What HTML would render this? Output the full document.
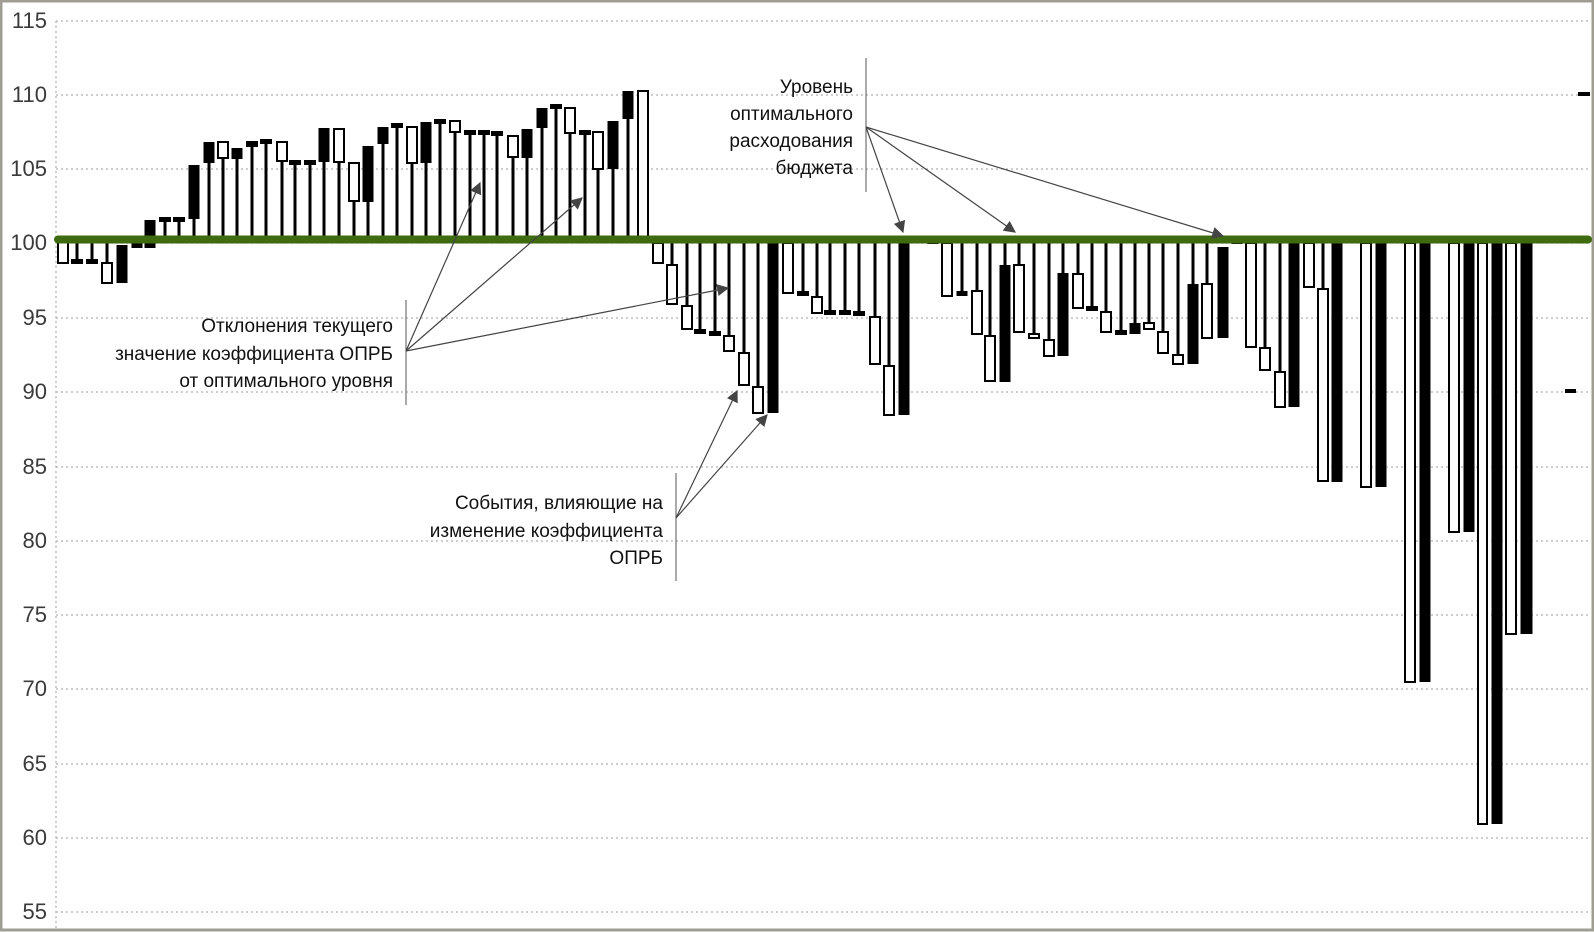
<!DOCTYPE html>
<html><head><meta charset="utf-8"><style>
html,body{margin:0;padding:0;background:#fff}
svg{display:block}
.h{fill:#fff;stroke:#000;stroke-width:2}
.f{fill:#000}
.g{stroke:#bdbdbd;stroke-width:1.5;stroke-dasharray:2 3}
.lab{font-family:"Liberation Sans",sans-serif;font-size:22px;fill:#3a3a3a;text-anchor:end}
.ann{font-family:"Liberation Sans",sans-serif;font-size:19px;fill:#111;text-anchor:end}
.ar{stroke:#444;stroke-width:1.2;fill:none;marker-end:url(#ah)}
</style></head><body>
<svg width="1594" height="932" viewBox="0 0 1594 932" xmlns="http://www.w3.org/2000/svg">
<defs><marker id="ah" viewBox="0 0 10 10" refX="9" refY="5" markerWidth="12" markerHeight="12" markerUnits="userSpaceOnUse" orient="auto"><path d="M0,0 L10,5 L0,10 z" fill="#444"/></marker></defs>
<rect x="1" y="1" width="1592" height="929" fill="#fff" stroke="#a09e92" stroke-width="3"/>
<g>
<line class="g" x1="56" y1="21" x2="1590" y2="21"/><line class="g" x1="56" y1="95" x2="1590" y2="95"/><line class="g" x1="56" y1="169" x2="1590" y2="169"/><line class="g" x1="56" y1="243" x2="1590" y2="243"/><line class="g" x1="56" y1="318" x2="1590" y2="318"/><line class="g" x1="56" y1="392" x2="1590" y2="392"/><line class="g" x1="56" y1="467" x2="1590" y2="467"/><line class="g" x1="56" y1="541" x2="1590" y2="541"/><line class="g" x1="56" y1="615" x2="1590" y2="615"/><line class="g" x1="56" y1="689" x2="1590" y2="689"/><line class="g" x1="56" y1="764" x2="1590" y2="764"/><line class="g" x1="56" y1="838" x2="1590" y2="838"/><line class="g" x1="56" y1="912" x2="1590" y2="912"/>
<line class="g" x1="56" y1="21" x2="56" y2="928"/>
</g>
<g>
<text class="lab" x="47" y="28">115</text><text class="lab" x="47" y="102">110</text><text class="lab" x="47" y="176">105</text><text class="lab" x="47" y="250">100</text><text class="lab" x="47" y="325">95</text><text class="lab" x="47" y="399">90</text><text class="lab" x="47" y="474">85</text><text class="lab" x="47" y="548">80</text><text class="lab" x="47" y="622">75</text><text class="lab" x="47" y="696">70</text><text class="lab" x="47" y="771">65</text><text class="lab" x="47" y="845">60</text><text class="lab" x="47" y="919">55</text>
</g>
<g class="f">
<rect x="163.5" y="219" width="3" height="21"/><rect x="177.5" y="219" width="3" height="21"/><rect x="192.5" y="219" width="3" height="21"/>
<rect x="207.5" y="163" width="3" height="77"/><rect x="221.5" y="158" width="3" height="82"/><rect x="235.5" y="159" width="3" height="81"/><rect x="250.5" y="143" width="3" height="97"/><rect x="264.5" y="141" width="3" height="99"/><rect x="280.5" y="161" width="3" height="79"/><rect x="293.5" y="162" width="3" height="78"/><rect x="308.5" y="162" width="3" height="78"/><rect x="322.5" y="162" width="3" height="78"/><rect x="337.5" y="162" width="3" height="78"/><rect x="352.5" y="201" width="3" height="39"/><rect x="366.5" y="202" width="3" height="38"/><rect x="381.5" y="144" width="3" height="96"/><rect x="395.5" y="125" width="3" height="115"/><rect x="410.5" y="163" width="3" height="77"/><rect x="424.5" y="163" width="3" height="77"/><rect x="438.5" y="121" width="3" height="119"/><rect x="453.5" y="132" width="3" height="108"/><rect x="468.5" y="132" width="3" height="108"/><rect x="482.5" y="132" width="3" height="108"/><rect x="495.5" y="133" width="3" height="107"/><rect x="511.5" y="157" width="3" height="83"/><rect x="525.5" y="158" width="3" height="82"/><rect x="540.5" y="128" width="3" height="112"/><rect x="554.5" y="106" width="3" height="134"/><rect x="568.5" y="133" width="3" height="107"/><rect x="583.5" y="132" width="3" height="108"/><rect x="596.5" y="169" width="3" height="71"/><rect x="611.5" y="169" width="3" height="71"/><rect x="626.5" y="119" width="3" height="121"/>
<rect x="159" y="217" width="12" height="5"/><rect x="173" y="217" width="12" height="5"/><rect x="246" y="141" width="12" height="6"/><rect x="260" y="139" width="12" height="5"/><rect x="289" y="160" width="12" height="5"/><rect x="304" y="160" width="12" height="5"/><rect x="391" y="123" width="12" height="5"/><rect x="434" y="119" width="12" height="5"/><rect x="464" y="130" width="12" height="5"/><rect x="478" y="130" width="12" height="5"/><rect x="491" y="131" width="12" height="5"/><rect x="550" y="104" width="12" height="5"/><rect x="579" y="130" width="12" height="5"/>
<rect x="144.5" y="220" width="11" height="28"/><rect x="188.5" y="165" width="11" height="54"/><rect x="203.5" y="142" width="11" height="21"/><rect x="231.5" y="148" width="11" height="11"/><rect x="318.5" y="128" width="11" height="34"/><rect x="362.5" y="146" width="11" height="56"/><rect x="377.5" y="127" width="11" height="17"/><rect x="420.5" y="122" width="11" height="41"/><rect x="521.5" y="129" width="11" height="29"/><rect x="536.5" y="108" width="11" height="20"/><rect x="607.5" y="121" width="11" height="48"/><rect x="622.5" y="91" width="11" height="28"/>
</g>
<g>
<rect class="h" x="218" y="142" width="10" height="16"/><rect class="h" x="277" y="142" width="10" height="19"/><rect class="h" x="334" y="129" width="10" height="33"/><rect class="h" x="349" y="163" width="10" height="38"/><rect class="h" x="407" y="127" width="10" height="36"/><rect class="h" x="450" y="121" width="10" height="11"/><rect class="h" x="508" y="136" width="10" height="21"/><rect class="h" x="565" y="108" width="10" height="25"/><rect class="h" x="593" y="132" width="10" height="37"/><rect class="h" x="638" y="91" width="10" height="146"/>
</g>
<g class="f">
<rect x="75.5" y="240" width="3" height="23"/><rect x="90.5" y="240" width="3" height="23"/><rect x="105.5" y="240" width="3" height="23"/>
<rect x="71" y="259" width="12" height="5"/><rect x="86" y="259" width="12" height="5"/>
<rect x="116.5" y="245" width="11" height="38"/><rect x="131.5" y="240" width="11" height="8"/>
<rect x="670.5" y="240" width="3" height="25"/><rect x="685.5" y="240" width="3" height="66"/><rect x="698.5" y="240" width="3" height="93"/><rect x="713.5" y="240" width="3" height="95"/><rect x="727.5" y="240" width="3" height="96"/><rect x="742.5" y="240" width="3" height="113"/><rect x="756.5" y="240" width="3" height="147"/>
<rect x="694" y="329" width="12" height="5"/><rect x="709" y="331" width="12" height="5"/>
<rect x="767.5" y="240" width="11" height="173"/>
<rect x="801.5" y="240" width="3" height="55"/><rect x="815.5" y="240" width="3" height="57"/><rect x="828.5" y="240" width="3" height="74"/><rect x="843.5" y="240" width="3" height="74"/><rect x="857.5" y="240" width="3" height="75"/><rect x="873.5" y="240" width="3" height="77"/><rect x="887.5" y="240" width="3" height="126"/>
<rect x="797" y="291" width="12" height="5"/><rect x="824" y="310" width="12" height="5"/><rect x="839" y="310" width="12" height="5"/><rect x="853" y="311" width="12" height="5"/>
<rect x="898.5" y="240" width="11" height="175"/><rect x="927.5" y="240" width="11" height="4"/>
<rect x="960.5" y="240" width="3" height="51"/><rect x="956.5" y="291" width="11" height="5"/>
<rect x="975.5" y="240" width="3" height="51"/><rect x="988.5" y="240" width="3" height="96"/><rect x="999.5" y="265" width="11" height="117"/><rect x="1003.5" y="240" width="3" height="25"/><rect x="1017.5" y="240" width="3" height="25"/><rect x="1032.5" y="240" width="3" height="94"/><rect x="1047.5" y="240" width="3" height="100"/><rect x="1057.5" y="273" width="11" height="83"/><rect x="1061.5" y="240" width="3" height="33"/><rect x="1076.5" y="240" width="3" height="34"/><rect x="1090.5" y="240" width="3" height="70"/><rect x="1086" y="306" width="12" height="5"/><rect x="1104.5" y="240" width="3" height="72"/><rect x="1119.5" y="240" width="3" height="94"/><rect x="1115" y="330" width="12" height="5"/><rect x="1133.5" y="240" width="3" height="83"/><rect x="1129.5" y="323" width="11" height="11"/><rect x="1147.5" y="240" width="3" height="83"/><rect x="1161.5" y="240" width="3" height="92"/><rect x="1176.5" y="240" width="3" height="115"/><rect x="1187.5" y="284" width="11" height="80"/><rect x="1191.5" y="240" width="3" height="44"/><rect x="1205.5" y="240" width="3" height="44"/><rect x="1217.5" y="247" width="11" height="91"/><rect x="1231.5" y="240" width="11" height="4"/>
<rect x="1263.5" y="240" width="3" height="108"/><rect x="1278.5" y="240" width="3" height="132"/><rect x="1288.5" y="243" width="11" height="164"/><rect x="1321.5" y="240" width="3" height="49"/><rect x="1331.5" y="243" width="11" height="239"/><rect x="1375.5" y="243" width="11" height="244"/><rect x="1419.5" y="243" width="11" height="439"/><rect x="1463.5" y="243" width="11" height="289"/><rect x="1491.5" y="243" width="11" height="581"/><rect x="1520.5" y="243" width="12" height="391"/>
<rect x="1578" y="92" width="12" height="4"/><rect x="1565" y="389" width="11" height="4"/>
</g>
<g>
<rect class="h" x="58" y="242" width="10" height="21"/><rect class="h" x="102" y="263" width="10" height="20"/>
<rect class="h" x="653" y="243" width="10" height="20"/><rect class="h" x="667" y="265" width="10" height="39"/><rect class="h" x="682" y="306" width="10" height="23"/><rect class="h" x="724" y="336" width="10" height="15"/><rect class="h" x="739" y="353" width="10" height="32"/><rect class="h" x="753" y="387" width="10" height="26"/><rect class="h" x="783" y="243" width="10" height="50"/><rect class="h" x="812" y="297" width="10" height="16"/><rect class="h" x="870" y="317" width="10" height="47"/><rect class="h" x="884" y="366" width="10" height="49"/>
<rect class="h" x="942" y="243" width="10" height="53"/><rect class="h" x="972" y="291" width="10" height="43"/><rect class="h" x="985" y="336" width="10" height="45"/><rect class="h" x="1014" y="265" width="10" height="67"/><rect class="h" x="1029" y="334" width="10" height="4"/><rect class="h" x="1044" y="340" width="10" height="16"/><rect class="h" x="1073" y="274" width="10" height="34"/><rect class="h" x="1101" y="312" width="10" height="20"/><rect class="h" x="1144" y="323" width="10" height="6"/><rect class="h" x="1158" y="332" width="10" height="21"/><rect class="h" x="1173" y="355" width="10" height="9"/><rect class="h" x="1202" y="284" width="10" height="54"/>
<rect class="h" x="1246" y="243" width="10" height="104"/><rect class="h" x="1260" y="348" width="10" height="22"/><rect class="h" x="1275" y="372" width="10" height="35"/><rect class="h" x="1304" y="243" width="10" height="44"/><rect class="h" x="1318" y="289" width="10" height="192"/><rect class="h" x="1361" y="243" width="10" height="244"/><rect class="h" x="1405" y="243" width="10" height="439"/><rect class="h" x="1449" y="243" width="10" height="289"/><rect class="h" x="1478" y="243" width="9" height="581"/><rect class="h" x="1506" y="243" width="10" height="391"/>
</g>
<line x1="58" y1="239.5" x2="1588" y2="239.5" stroke="#3f6b0f" stroke-width="8" stroke-linecap="round"/>
<line x1="866" y1="58" x2="866" y2="192" stroke="#555" stroke-width="1"/>
<text class="ann" x="853" y="93">Уровень</text><text class="ann" x="853" y="120">оптимального</text><text class="ann" x="853" y="147">расходования</text><text class="ann" x="853" y="174">бюджета</text>
<line class="ar" x1="866" y1="127" x2="903" y2="232"/><line class="ar" x1="866" y1="127" x2="1015" y2="232"/><line class="ar" x1="866" y1="127" x2="1223" y2="236"/>
<line x1="406" y1="300" x2="406" y2="405" stroke="#555" stroke-width="1"/>
<text class="ann" x="393" y="332">Отклонения текущего</text><text class="ann" x="393" y="360">значение коэффициента ОПРБ</text><text class="ann" x="393" y="387">от оптимального уровня</text>
<line class="ar" x1="406" y1="351" x2="480" y2="183"/><line class="ar" x1="406" y1="351" x2="582" y2="198"/><line class="ar" x1="406" y1="351" x2="728" y2="288"/>
<line x1="676" y1="473" x2="676" y2="581" stroke="#555" stroke-width="1"/>
<text class="ann" x="663" y="509">События, влияющие на</text><text class="ann" x="663" y="537">изменение коэффициента</text><text class="ann" x="663" y="564">ОПРБ</text>
<line class="ar" x1="676" y1="518" x2="737" y2="391"/><line class="ar" x1="676" y1="518" x2="767" y2="415"/>
</svg>
</body></html>
